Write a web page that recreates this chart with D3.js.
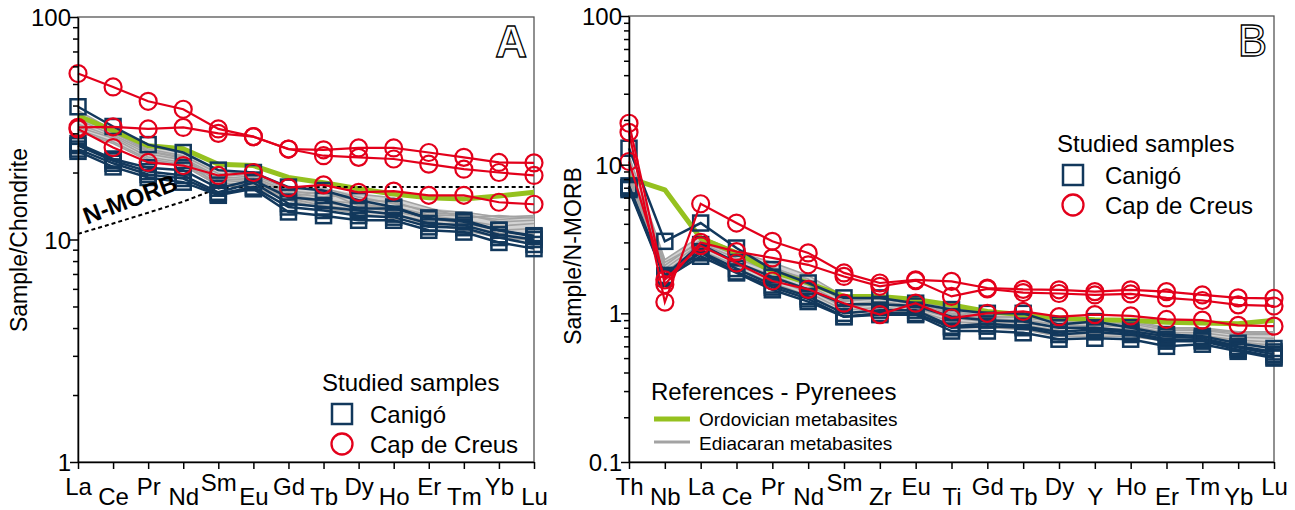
<!DOCTYPE html>
<html><head><meta charset="utf-8">
<script src="https://cdn.jsdelivr.net/npm/d3@7"></script>
<style>body{margin:0;background:#fff}svg{display:block}text{font-family:Arial,"Liberation Sans",sans-serif}</style>
</head><body><svg id="c" width="1295" height="510"></svg>
<script>
// ---------- Panel A: chondrite-normalised REE ----------
const catsA = ["La","Ce","Pr","Nd","Sm","Eu","Gd","Tb","Dy","Ho","Er","Tm","Yb","Lu"];
const yTicksA = [1,10,100];
const canigoA = [
  [39.5,32.2,26.7,24.6,20.5,20.0,17.2,16.6,15.0,14.0,12.4,12.2,11.0,10.4],
  [26.4,22.6,20.2,19.4,16.3,18.0,14.5,14.0,13.5,13.0,11.8,11.6,10.5,10.0],
  [25.5,22.0,19.6,18.8,16.0,17.2,14.0,13.5,12.8,12.6,11.4,11.3,10.2,9.5],
  [24.9,21.2,19.0,18.1,15.8,16.9,13.3,12.8,12.2,12.2,11.0,10.8,9.7,9.1],
  [27.0,23.0,21.0,20.5,17.0,18.5,15.5,15.0,13.8,13.8,12.5,12.0,11.0,10.3]
];
const creusA = [
  [55.7,48.5,41.8,38.5,31.4,29.0,25.5,25.3,25.8,25.8,24.6,23.4,22.2,22.1],
  [31.9,32.1,31.4,31.9,30.0,29.0,25.5,23.8,23.4,23.0,21.8,20.7,20.0,19.4],
  [31.4,25.9,22.2,21.5,19.4,20.0,17.1,17.6,16.3,16.5,15.8,15.8,14.7,14.4]
];
const ordovicianA = [36.0,30.9,26.4,25.6,21.8,21.5,19.0,18.0,16.9,16.0,15.4,15.2,15.7,16.3];
const ediacaranA = [
  [38.0,31.0,26.4,24.5,20.5,19.4,16.9,17.0,15.5,14.5,13.5,13.3,12.6,12.8],
  [36.0,30.0,25.5,23.8,19.8,19.0,16.5,16.0,15.0,14.8,13.2,13.0,12.0,12.2],
  [34.5,29.5,24.8,23.2,19.2,18.7,16.2,15.5,16.0,15.4,13.9,12.5,12.8,12.5],
  [33.0,29.0,24.2,22.8,18.8,18.4,15.9,15.0,14.5,13.8,12.8,12.2,11.5,11.8],
  [32.0,28.5,23.5,22.2,18.5,18.0,15.6,14.6,14.0,13.4,12.4,11.8,11.0,11.2],
  [31.2,27.5,23.0,21.8,18.0,17.6,15.3,14.2,13.6,13.0,12.0,11.5,10.7,10.6],
  [30.6,27.0,22.6,21.5,17.5,17.1,15.0,13.8,13.1,12.4,11.7,11.0,10.2,9.9],
  [35.0,30.5,25.0,23.5,17.2,18.0,15.5,16.5,14.2,14.0,12.9,12.8,12.3,12.6]
];
const nmorbA = [10.6,11.8,13.2,14.8,17.0,17.2,17.2,17.2,17.2,17.2,17.2,17.2,17.2,17.2];

// ---------- Panel B: N-MORB-normalised multi-element ----------
const catsB = ["Th","Nb","La","Ce","Pr","Nd","Sm","Zr","Eu","Ti","Gd","Tb","Dy","Y","Ho","Er","Tm","Yb","Lu"];
const yTicksB = [0.1,1,10,100];
const canigoB = [
  [12.9,3.05,4.05,2.75,1.97,1.60,1.27,1.27,1.17,1.06,1.00,1.00,0.84,0.88,0.80,0.72,0.70,0.63,0.58],
  [7.0,1.77,2.55,1.90,1.50,1.25,0.95,1.00,1.00,0.80,0.82,0.80,0.72,0.75,0.72,0.65,0.65,0.57,0.51],
  [6.8,1.72,2.42,1.87,1.44,1.20,0.95,0.98,0.98,0.76,0.76,0.74,0.67,0.68,0.67,0.60,0.62,0.555,0.50],
  [7.2,1.80,2.90,2.20,1.75,1.45,1.15,1.15,1.12,0.95,0.90,0.88,0.80,0.80,0.76,0.70,0.68,0.60,0.55],
  [7.0,1.75,2.60,2.00,1.55,1.30,1.00,1.05,1.05,0.82,0.85,0.82,0.75,0.78,0.74,0.67,0.66,0.59,0.53]
];
const creusB = [
  [16.5,1.19,5.46,4.05,3.05,2.55,1.87,1.60,1.68,1.64,1.48,1.45,1.44,1.40,1.44,1.40,1.33,1.27,1.26],
  [19.0,1.56,3.00,2.60,2.36,2.12,1.77,1.52,1.66,1.30,1.46,1.38,1.36,1.33,1.35,1.27,1.22,1.14,1.12],
  [10.5,1.68,2.85,2.18,1.65,1.45,1.17,0.98,1.17,0.93,1.00,1.03,0.95,0.98,0.96,0.91,0.90,0.83,0.82]
];
const ordovicianB = [8.13,6.78,3.2,2.55,1.91,1.60,1.30,1.30,1.24,1.14,1.03,0.98,0.93,0.907,0.90,0.87,0.86,0.85,0.897];
const ediacaranB = [
  [11.5,2.3,3.3,2.6,2.2,1.8,1.3,1.3,1.2,1.1,1.0,0.98,0.95,0.9,0.9,0.8,0.8,0.75,0.75],
  [10.0,2.1,3.1,2.45,2.05,1.65,1.22,1.25,1.16,1.03,0.96,0.93,0.88,0.86,0.85,0.77,0.77,0.72,0.72],
  [9.0,2.0,2.95,2.35,1.9,1.55,1.15,1.2,1.12,0.98,0.92,0.9,0.84,0.82,0.82,0.74,0.74,0.69,0.68],
  [8.5,1.9,2.8,2.2,1.8,1.45,1.1,1.15,1.08,0.93,0.88,0.86,0.8,0.79,0.78,0.71,0.71,0.66,0.64],
  [8.0,1.85,2.65,2.1,1.7,1.38,1.05,1.1,1.05,0.88,0.85,0.83,0.77,0.76,0.75,0.69,0.69,0.64,0.61],
  [7.5,1.78,2.55,2.0,1.6,1.32,1.0,1.05,1.02,0.84,0.82,0.8,0.73,0.73,0.72,0.67,0.67,0.62,0.58],
  [7.0,1.7,2.4,1.9,1.5,1.25,0.95,1.0,1.0,0.8,0.8,0.78,0.7,0.7,0.7,0.65,0.65,0.6,0.55],
  [9.5,2.2,3.0,2.5,2.0,1.7,1.2,1.28,1.14,1.0,0.94,0.95,0.9,0.88,0.87,0.79,0.78,0.74,0.73]
];

// ---------- styles ----------
const RED = "#e3001b", NAVY = "#12385c", GREEN = "#95c11f", GRAY = "#a3a3a3", BAND = "#d3d3d3";
const svg = d3.select("#c");

function panel(o){
  const x = d3.scalePoint().domain(o.cats).range([o.left, o.right]).padding(0);
  const y = d3.scaleLog().domain(o.domain).range([o.bottom, o.top]);
  const g = svg.append("g");
  const line = d3.line().x((d,i)=>x(o.cats[i])).y(d=>y(d));

  g.append("rect").attr("x",o.left).attr("y",o.top).attr("width",o.right-o.left).attr("height",o.bottom-o.top)
    .attr("fill","none").attr("stroke","#555").attr("stroke-width",1.3);

  const lo = o.cats.map((c,i)=>d3.min(o.edi, s=>s[i]));
  const hi = o.cats.map((c,i)=>d3.max(o.edi, s=>s[i]));
  g.append("path").datum(o.cats.map((c,i)=>i))
    .attr("d", d3.area().x(i=>x(o.cats[i])).y0(i=>y(lo[i])).y1(i=>y(hi[i])))
    .attr("fill",BAND);
  o.edi.forEach(s=>g.append("path").attr("d",line(s)).attr("fill","none").attr("stroke",GRAY).attr("stroke-width",1.6));
  g.append("path").attr("d",line(o.ord)).attr("fill","none").attr("stroke",GREEN).attr("stroke-width",5).attr("stroke-linejoin","round");
  if(o.nmorb) g.append("path").attr("d",line(o.nmorb)).attr("fill","none").attr("stroke","#000").attr("stroke-width",2).attr("stroke-dasharray","4,3");

  o.can.forEach(s=>{
    g.append("path").attr("d",line(s)).attr("fill","none").attr("stroke",NAVY).attr("stroke-width",2.5);
    g.selectAll(null).data(s).enter().append("rect")
      .attr("x",(d,i)=>x(o.cats[i])-7.5).attr("y",d=>y(d)-7.5).attr("width",15).attr("height",15)
      .attr("fill","none").attr("stroke",NAVY).attr("stroke-width",2.5);
  });
  o.cre.forEach(s=>{
    g.append("path").attr("d",line(s)).attr("fill","none").attr("stroke",RED).attr("stroke-width",2.2);
    g.selectAll(null).data(s).enter().append("circle")
      .attr("cx",(d,i)=>x(o.cats[i])).attr("cy",d=>y(d)).attr("r",8.5)
      .attr("fill","none").attr("stroke",RED).attr("stroke-width",2.2);
  });

  const xa = g.append("g").attr("transform",`translate(0,${o.bottom})`)
    .call(d3.axisBottom(x).tickSize(7).tickSizeOuter(0));
  xa.select(".domain").attr("stroke","#000").attr("stroke-width",1.5);
  xa.selectAll(".tick line").attr("stroke","#000").attr("stroke-width",1.5);
  xa.selectAll(".tick text").attr("font-size",24).attr("fill","#000")
    .attr("dy",null).attr("y",(d,i)=> i%2===0 ? (d==="Sm" ? 29 : 33) : 43);

  const minor = [];
  for(let e=Math.log10(o.domain[0]); e<Math.log10(o.domain[1])-1e-9; e++){
    for(let k=2;k<=9;k++) minor.push(k*Math.pow(10,e));
  }
  const ym = g.append("g").attr("transform",`translate(${o.left},0)`)
    .call(d3.axisLeft(y).tickValues(minor).tickSize(5).tickFormat(""));
  ym.select(".domain").remove();
  ym.selectAll(".tick line").attr("stroke","#000").attr("stroke-width",1.5);
  const ya = g.append("g").attr("transform",`translate(${o.left},0)`)
    .call(d3.axisLeft(y).tickValues(o.yt).tickSize(8).tickSizeOuter(0).tickFormat(d=>String(d)));
  ya.select(".domain").attr("stroke","#000").attr("stroke-width",1.5);
  ya.selectAll(".tick line").attr("stroke","#000").attr("stroke-width",1.5);
  ya.selectAll(".tick text").attr("font-size",24).attr("fill","#000").attr("x",-7).attr("dy","0.36em");

  g.append("text").attr("transform",`translate(${o.ytx},${o.yty}) rotate(-90)`)
    .attr("text-anchor","middle").attr("font-size",23).text(o.ytitle);

  g.append("text").attr("x",o.right-7).attr("y",o.top+40).attr("text-anchor","end")
    .attr("font-size",44).attr("font-weight",o.letterBold?"bold":"normal")
    .attr("fill","#fff").attr("stroke","#000").attr("stroke-width",1.3).text(o.letter);
  return {x,y,g};
}

const A = panel({cats:catsA, domain:[1,100], yt:yTicksA, left:78, right:534, top:17, bottom:462,
  can:canigoA, cre:creusA, ord:ordovicianA, edi:ediacaranA, nmorb:nmorbA,
  ytitle:"Sample/Chondrite", ytx:27, yty:240, letter:"A", letterBold:true});
const B = panel({cats:catsB, domain:[0.1,100], yt:yTicksB, left:629, right:1274, top:16, bottom:462,
  can:canigoB, cre:creusB, ord:ordovicianB, edi:ediacaranB,
  ytitle:"Sample/N-MORB", ytx:581, yty:256, letter:"B", letterBold:false});

A.g.append("text").attr("transform","translate(133,207) rotate(-21)").attr("text-anchor","middle")
  .attr("font-size",24).attr("font-weight","bold").text("N-MORB");

function studiedLegend(g, lx, ly, mo){
  g.append("text").attr("x",lx).attr("y",ly).attr("font-size",24).text("Studied samples");
  g.append("rect").attr("x",lx+mo-10).attr("y",ly+13).attr("width",20).attr("height",20)
    .attr("fill","none").attr("stroke",NAVY).attr("stroke-width",2.5);
  g.append("text").attr("x",lx+48).attr("y",ly+32).attr("font-size",24).text("Canigó");
  g.append("circle").attr("cx",lx+mo).attr("cy",ly+53).attr("r",10.5)
    .attr("fill","none").attr("stroke",RED).attr("stroke-width",2.3);
  g.append("text").attr("x",lx+48).attr("y",ly+62).attr("font-size",24).text("Cap de Creus");
}
studiedLegend(A.g, 322, 391, 20);
studiedLegend(B.g, 1057, 152, 16);

const R = B.g;
R.append("text").attr("x",651).attr("y",400).attr("font-size",24).text("References - Pyrenees");
R.append("line").attr("x1",654).attr("x2",690).attr("y1",419).attr("y2",419).attr("stroke",GREEN).attr("stroke-width",5);
R.append("text").attr("x",699).attr("y",426).attr("font-size",19).text("Ordovician metabasites");
R.append("line").attr("x1",654).attr("x2",690).attr("y1",442).attr("y2",442).attr("stroke",GRAY).attr("stroke-width",3);
R.append("text").attr("x",699).attr("y",450).attr("font-size",19).text("Ediacaran metabasites");
</script></body></html>
